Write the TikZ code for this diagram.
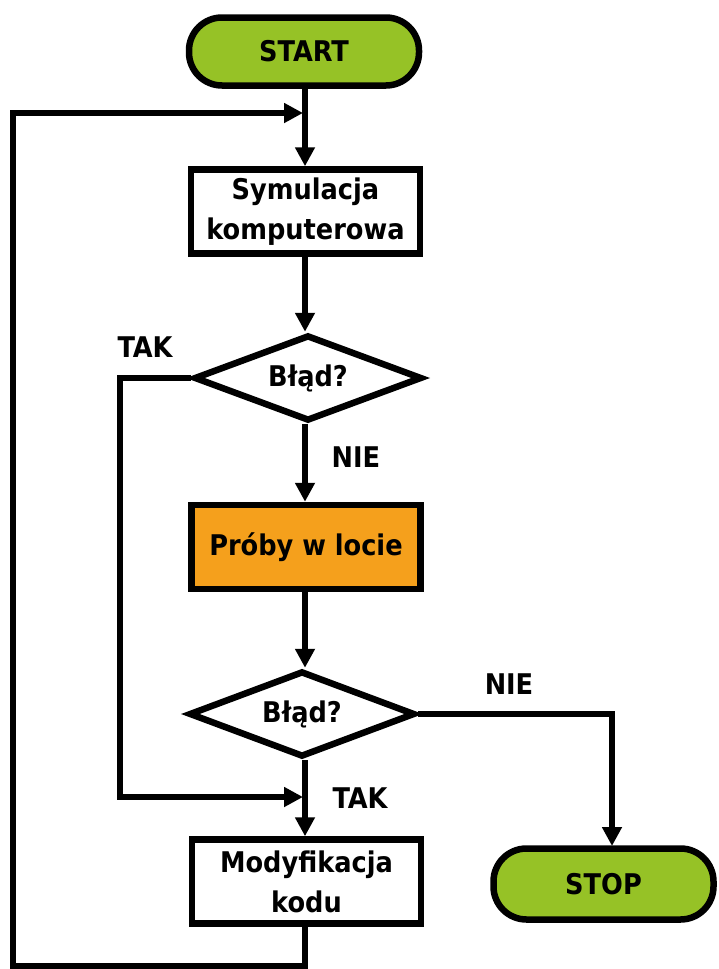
\documentclass[tikz,border=0pt]{standalone}
\usepackage{fontspec}
\setmainfont{DejaVu Sans Condensed}
\usetikzlibrary{shapes.geometric,arrows.meta}
\definecolor{termgreen}{RGB}{150,194,38}
\definecolor{procorange}{RGB}{245,160,28}
\tikzset{
  base/.style={draw=black, line width=6.5pt, font=\bfseries\fontsize{28.5}{40}\selectfont, align=center, inner sep=0pt},
  terminal/.style={base, fill=termgreen, rectangle, rounded corners=33pt, minimum width=230pt, minimum height=68pt},
  process/.style={base, fill=white, rectangle, minimum width=229pt, minimum height=84pt},
  hot/.style={process, fill=procorange},
  decision/.style={base, fill=white, diamond, aspect=2.6, minimum width=228pt, minimum height=86pt},
  lbl/.style={font=\bfseries\fontsize{28.5}{30}\selectfont, inner sep=0pt},
  conn/.style={line width=6pt, -{Triangle[length=19pt,width=19pt]}},
}
\begin{document}
\begin{tikzpicture}[x=1pt,y=1pt]
\useasboundingbox[fill=white] (0,0) rectangle (718,-969);
\node[terminal] (start) at (304,-51.5) {START};
\node[process] (sym) at (305.5,-211.5) {Symulacja\\komputerowa};
\node[decision] (d1) at (308,-378) {Błąd?};
\node[hot] (proby) at (306,-547) {Próby w locie};
\node[decision, minimum width=226pt] (d2) at (302,-714) {Błąd?};
\node[process] (mod) at (306.5,-881.5) {Modyfikacja\\kodu};
\node[terminal, minimum width=220pt, minimum height=71pt] (stop) at (603.5,-884) {STOP};

\node[lbl] (tak1) at (145,-347) {TAK};
\node[lbl] (nie1) at (356,-457) {NIE};
\node[lbl] (nie2) at (509,-684) {NIE};
\node[lbl] (tak2) at (360,-798) {TAK};

\coordinate (loopin) at (303,-113);
\coordinate (tak2in) at (303,-797);
\coordinate (stopin) at (612,-846);

\draw[conn] (start.south -| 305,0) -- (sym.north -| 305,0);
\draw[conn] (sym.south -| 305,0) -- (d1.north -| 305,0);
\draw[conn] (d1.south -| 305,0) -- (proby.north -| 305,0);
\draw[conn] (proby.south -| 305,0) -- (d2.north -| 305,0);
\draw[conn] (d2.south -| 305,0) -- (mod.north -| 305,0);
\draw[conn] (d1.west) -- (120,-378) -- (120,-797) -- (tak2in);
\draw[conn] (d2.east) -- (612,-714) -- (stopin);
\draw[conn] (mod.south -| 305,0) -- (305,-966) -- (13,-966) -- (13,-113) -- (loopin);
\end{tikzpicture}
\end{document}
